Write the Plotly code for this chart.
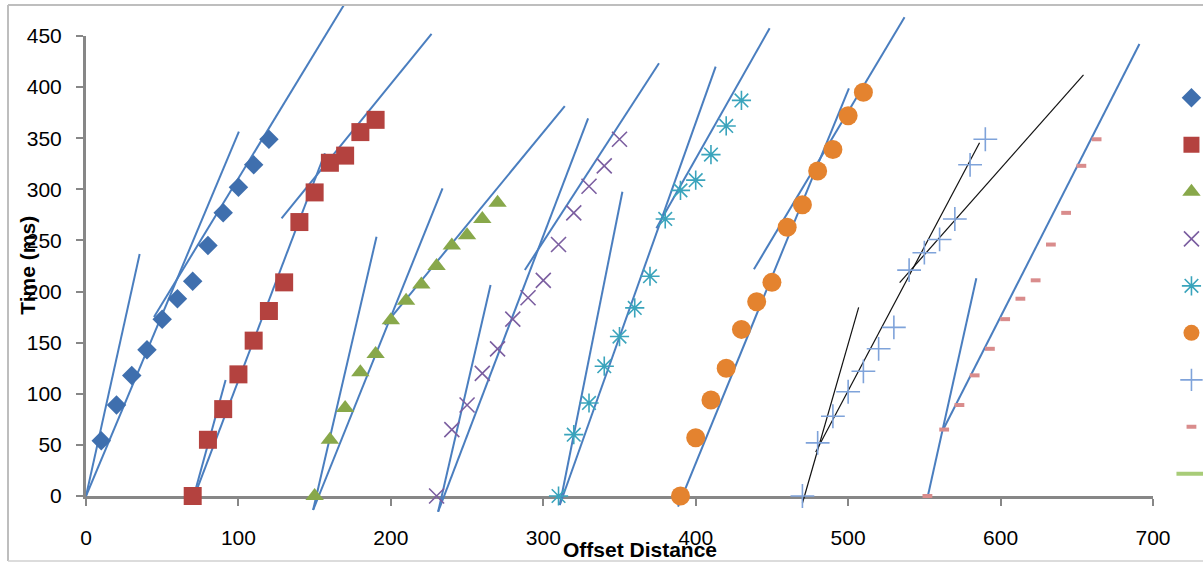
import plotly.graph_objects as go

# ---------------- data ----------------
s1_x = [10, 20, 30, 40, 50, 60, 70, 80, 90, 100, 110, 120]
s1_y = [54, 89, 118, 143, 173, 193, 210, 245, 277, 302, 324, 349]
s2_x = [70, 80, 90, 100, 110, 120, 130, 140, 150, 160, 170, 180, 190]
s2_y = [0, 55, 85, 119, 152, 181, 209, 268, 297, 326, 333, 356, 368]
s3_x = [150, 160, 170, 180, 190, 200, 210, 220, 230, 240, 250, 260, 270]
s3_y = [0, 55, 86, 121, 139, 172, 191, 207, 225, 245, 255, 271, 287]
s4_x = [230, 240, 250, 260, 270, 280, 290, 300, 310, 320, 330, 340, 350]
s4_y = [0, 65, 89, 120, 144, 173, 194, 211, 246, 277, 303, 323, 349]
s5_x = [310, 320, 330, 340, 350, 360, 370, 380, 390, 400, 410, 420, 430]
s5_y = [0, 60, 91, 127, 156, 184, 215, 271, 299, 309, 334, 362, 387]
s6_x = [390, 400, 410, 420, 430, 440, 450, 460, 470, 480, 490, 500, 510]
s6_y = [0, 57, 94, 125, 163, 190, 209, 263, 285, 318, 339, 372, 395]
s7_x = [470, 480, 490, 500, 510, 520, 530, 540, 550, 560, 570, 580, 590]
s7_y = [0, 52, 78, 102, 122, 144, 165, 221, 238, 251, 271, 324, 349]
s8_x = [552, 563, 573, 583, 593, 603, 613, 623, 633, 643, 653, 663]
s8_y = [0, 65, 89, 118, 144, 173, 193, 211, 246, 277, 323, 349]
s9_x = [None]
s9_y = [None]

# fitted line segments (start / end points)
blue_x0 = [0, 0, 44.6, 69.7, 69.7, 128.3, 149.0, 149.0, 196.1, 231.0, 231.0, 287.9,
           310.8, 310.8, 374.2, 388.4, 438.2, 552.3, 562.2]
blue_y0 = [0, 0, 175.1, -5.6, -5.6, 271.7, -13.7, -13.7, 167.3, -15.4, -15.4, 221.1,
           -8.8, -8.8, 261.9, -10.5, 221.8, 0, 64.6]
blue_x1 = [35.2, 100.3, 169.2, 91.6, 156.7, 226.7, 190.6, 233.9, 314.1, 265.4, 329.4, 375.9,
           351.9, 413.1, 448.5, 500.5, 537.0, 584.1, 691.1]
blue_y1 = [236.7, 356.4, 480.3, 113.5, 335.3, 452.0, 253.7, 301.0, 381.5, 206.4, 369.5, 423.3,
           297.7, 420.0, 457.5, 398.8, 468.3, 213.0, 442.2]
black_x0 = [470.0, 478.7, 533.8]
black_y0 = [-7.1, 43.0, 208.7]
black_x1 = [506.9, 586.2, 654.4]
black_y1 = [184.6, 345.6, 411.9]

x_ticks = [0, 100, 200, 300, 400, 500, 600, 700]
y_ticks = [0, 50, 100, 150, 200, 250, 300, 350, 400, 450]
x_title = "Offset Distance"
y_title = "Time (ms)"

# ---------------- figure ----------------
FONT = "Liberation Sans"
fig = go.Figure()


def seg(x0, y0, x1, y1):
    xs, ys = [], []
    for a, b, c, d in zip(x0, y0, x1, y1):
        xs += [a, c, None]
        ys += [b, d, None]
    return xs, ys


# dummy trace so the axis subplot exists
fig.add_trace(go.Scatter(x=[], y=[], xaxis="x", yaxis="y", showlegend=False, hoverinfo="skip"))

bx, by = seg(blue_x0, blue_y0, blue_x1, blue_y1)
fig.add_trace(go.Scatter(x=bx, y=by, mode="lines", yaxis="y2", showlegend=False,
                         line=dict(color="#4A7EBF", width=2), hoverinfo="skip"))
kx, ky = seg(black_x0, black_y0, black_x1, black_y1)
fig.add_trace(go.Scatter(x=kx, y=ky, mode="lines", yaxis="y2", showlegend=False,
                         line=dict(color="#111111", width=1.2), hoverinfo="skip"))

series = [
    (s1_x, s1_y, dict(symbol="diamond", size=15, color="#3F6FAE")),
    (s2_x, s2_y, dict(symbol="square", size=18, color="#B4423F")),
    (s3_x, s3_y, dict(symbol="triangle-up", size=16, color="#88A84A")),
    (s4_x, s4_y, dict(symbol="x-thin", size=15, color="#7B5EA0", line=dict(color="#7B5EA0", width=1.6))),
    (s5_x, s5_y, dict(symbol="asterisk", size=16, color="#3AA4BC", line=dict(color="#3AA4BC", width=1.6))),
    (s6_x, s6_y, dict(symbol="circle", size=19, color="#E4832F")),
    (s7_x, s7_y, dict(symbol="cross-thin", size=17, color="#7FA3DA", line=dict(color="#7FA3DA", width=1.6))),
    (s8_x, s8_y, dict(symbol="line-ew", size=7, color="#D98C8C", line=dict(color="#D98C8C", width=4))),
]
for i, (xs, ys, mk) in enumerate(series):
    fig.add_trace(go.Scatter(x=xs, y=ys, mode="markers", yaxis="y2", name=" ",
                             legendgroup=f"g{i}", marker=mk, cliponaxis=False))
fig.add_trace(go.Scatter(x=s9_x, y=s9_y, mode="lines", yaxis="y2", name=" ",
                         legendgroup="g8", line=dict(color="#A8CC78", width=4)))

axis_col = "#878787"
fig.update_layout(
    width=1203, height=565,
    margin=dict(l=86, r=50, t=3, b=52, autoexpand=False),
    paper_bgcolor="white",
    plot_bgcolor="rgba(0,0,0,0)",
    font=dict(family=FONT, color="#000000"),
    showlegend=True,
    legend=dict(x=1.0173, y=0.8425, xanchor="left", yanchor="top",
                traceorder="grouped", tracegroupgap=28,
                font=dict(size=12), bgcolor="rgba(0,0,0,0)"),
    xaxis=dict(range=[0, 700], anchor="y", tickvals=x_ticks, ticks="outside",
               ticklen=7, tickwidth=2, tickcolor=axis_col, showline=True,
               linecolor=axis_col, linewidth=3, showgrid=False, zeroline=False,
               automargin=False,
               tickfont=dict(size=21, family=FONT), ticklabelstandoff=14),
    yaxis=dict(domain=[0.03333, 0.93529], range=[0, 450], anchor="x",
               tickvals=y_ticks, ticks="outside", ticklen=7, tickwidth=2,
               tickcolor=axis_col, showline=True, linecolor=axis_col, linewidth=3,
               showgrid=False, zeroline=False, automargin=False,
               tickfont=dict(size=21, family=FONT), ticklabelstandoff=10),
    yaxis2=dict(domain=[0, 1], range=[-16.63, 482.3], anchor="x", visible=False,
                showgrid=False, zeroline=False, automargin=False),
    annotations=[
        dict(text=f"<b>{x_title}</b>", xref="paper", yref="paper", x=0.519, y=-0.0725,
             xanchor="center", yanchor="middle",
             showarrow=False, font=dict(size=21, family=FONT, color="#000000")),
        dict(text=f"<b>{y_title}</b>", xref="paper", yref="paper", x=-0.0548, y=0.486,
             xanchor="center", yanchor="middle",
             showarrow=False, textangle=-90, font=dict(size=21, family=FONT, color="#000000")),
    ],
    shapes=[
        dict(type="line", xref="paper", yref="paper", x0=-0.0731, x1=-0.0731, y0=-0.094, y1=0.996,
             line=dict(color="#BEBEBE", width=2)),
        dict(type="line", xref="paper", yref="paper", x0=-0.0731, x1=1.05, y0=0.996, y1=0.996,
             line=dict(color="#BEBEBE", width=2)),
        dict(type="line", xref="paper", yref="paper", x0=-0.0731, x1=1.05, y0=-0.094, y1=-0.094,
             line=dict(color="#D0D0D0", width=1.5)),
    ],
)

fig.write_html("out.html", config={"displayModeBar": False},
               post_script="document.body.style.margin='0';document.body.style.padding='0';")
